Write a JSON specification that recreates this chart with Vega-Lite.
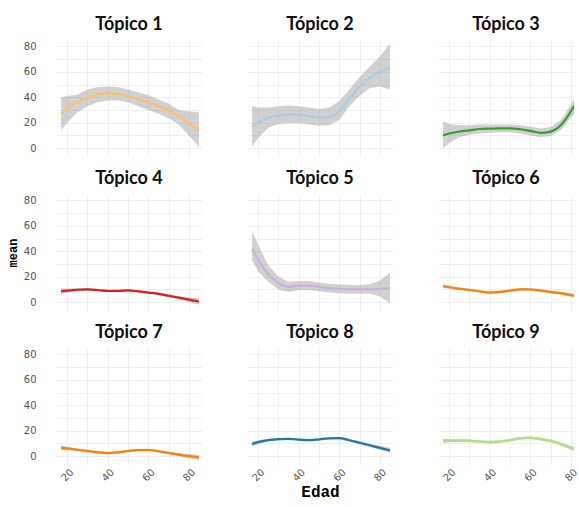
{
  "$schema": "https://vega.github.io/schema/vega-lite/v6.json",
  "padding": {"left": 6, "top": 16, "right": 0, "bottom": 0},
  "background": "white",
  "data": {"values": [
    {"topic":"Tópico 1","edad":17,"mean":27,"lo":14,"hi":40},
    {"topic":"Tópico 1","edad":20,"mean":31,"lo":20,"hi":41},
    {"topic":"Tópico 1","edad":25,"mean":36,"lo":28,"hi":42},
    {"topic":"Tópico 1","edad":30,"mean":40,"lo":33,"hi":46},
    {"topic":"Tópico 1","edad":35,"mean":42,"lo":36,"hi":48},
    {"topic":"Tópico 1","edad":40,"mean":43,"lo":37.5,"hi":48.5},
    {"topic":"Tópico 1","edad":45,"mean":42.5,"lo":37.5,"hi":48},
    {"topic":"Tópico 1","edad":50,"mean":41,"lo":36,"hi":46},
    {"topic":"Tópico 1","edad":55,"mean":38.5,"lo":33,"hi":44},
    {"topic":"Tópico 1","edad":60,"mean":36,"lo":30,"hi":41.5},
    {"topic":"Tópico 1","edad":65,"mean":33,"lo":27,"hi":38.5},
    {"topic":"Tópico 1","edad":70,"mean":29.5,"lo":23.5,"hi":35},
    {"topic":"Tópico 1","edad":75,"mean":25,"lo":18.5,"hi":30},
    {"topic":"Tópico 1","edad":80,"mean":19.5,"lo":10,"hi":29},
    {"topic":"Tópico 1","edad":85,"mean":14,"lo":1,"hi":28},
    {"topic":"Tópico 2","edad":17,"mean":17,"lo":1,"hi":33},
    {"topic":"Tópico 2","edad":20,"mean":20,"lo":8,"hi":32},
    {"topic":"Tópico 2","edad":25,"mean":24,"lo":16,"hi":32},
    {"topic":"Tópico 2","edad":30,"mean":25.5,"lo":19,"hi":33},
    {"topic":"Tópico 2","edad":35,"mean":26.5,"lo":19.5,"hi":33.5},
    {"topic":"Tópico 2","edad":40,"mean":26.5,"lo":19.5,"hi":33},
    {"topic":"Tópico 2","edad":45,"mean":25,"lo":18.5,"hi":32},
    {"topic":"Tópico 2","edad":50,"mean":24,"lo":17.5,"hi":31},
    {"topic":"Tópico 2","edad":55,"mean":24.5,"lo":18,"hi":32},
    {"topic":"Tópico 2","edad":60,"mean":29,"lo":22,"hi":37},
    {"topic":"Tópico 2","edad":65,"mean":39,"lo":33,"hi":46},
    {"topic":"Tópico 2","edad":70,"mean":48,"lo":41,"hi":56},
    {"topic":"Tópico 2","edad":75,"mean":55,"lo":47,"hi":64},
    {"topic":"Tópico 2","edad":80,"mean":60,"lo":48.5,"hi":72},
    {"topic":"Tópico 2","edad":85,"mean":63,"lo":46,"hi":82},
    {"topic":"Tópico 3","edad":17,"mean":10,"lo":0,"hi":21},
    {"topic":"Tópico 3","edad":20,"mean":11.5,"lo":4,"hi":19},
    {"topic":"Tópico 3","edad":25,"mean":13,"lo":8.5,"hi":18},
    {"topic":"Tópico 3","edad":30,"mean":14,"lo":10.5,"hi":18},
    {"topic":"Tópico 3","edad":35,"mean":15,"lo":11.5,"hi":18.5},
    {"topic":"Tópico 3","edad":40,"mean":15.3,"lo":12,"hi":18.5},
    {"topic":"Tópico 3","edad":45,"mean":15.5,"lo":12.5,"hi":18.5},
    {"topic":"Tópico 3","edad":50,"mean":15.5,"lo":12.5,"hi":18.5},
    {"topic":"Tópico 3","edad":55,"mean":14.8,"lo":11.5,"hi":18},
    {"topic":"Tópico 3","edad":60,"mean":13.5,"lo":10,"hi":17},
    {"topic":"Tópico 3","edad":65,"mean":12,"lo":8.5,"hi":15.5},
    {"topic":"Tópico 3","edad":70,"mean":13,"lo":9.5,"hi":16.5},
    {"topic":"Tópico 3","edad":75,"mean":18,"lo":14,"hi":22},
    {"topic":"Tópico 3","edad":80,"mean":29,"lo":24,"hi":34},
    {"topic":"Tópico 3","edad":85,"mean":42,"lo":34,"hi":50},
    {"topic":"Tópico 4","edad":17,"mean":8.5,"lo":6,"hi":11},
    {"topic":"Tópico 4","edad":20,"mean":9,"lo":7.3,"hi":10.7},
    {"topic":"Tópico 4","edad":25,"mean":9.7,"lo":8.5,"hi":10.9},
    {"topic":"Tópico 4","edad":30,"mean":10,"lo":9,"hi":11},
    {"topic":"Tópico 4","edad":35,"mean":9.5,"lo":8.6,"hi":10.4},
    {"topic":"Tópico 4","edad":40,"mean":8.8,"lo":8,"hi":9.6},
    {"topic":"Tópico 4","edad":45,"mean":8.8,"lo":8,"hi":9.6},
    {"topic":"Tópico 4","edad":50,"mean":9.2,"lo":8.3,"hi":10.1},
    {"topic":"Tópico 4","edad":55,"mean":8.5,"lo":7.6,"hi":9.4},
    {"topic":"Tópico 4","edad":60,"mean":7.5,"lo":6.6,"hi":8.4},
    {"topic":"Tópico 4","edad":65,"mean":6.5,"lo":5.5,"hi":7.5},
    {"topic":"Tópico 4","edad":70,"mean":5,"lo":3.9,"hi":6.1},
    {"topic":"Tópico 4","edad":75,"mean":3.5,"lo":2.2,"hi":4.8},
    {"topic":"Tópico 4","edad":80,"mean":2,"lo":0.3,"hi":3.7},
    {"topic":"Tópico 4","edad":85,"mean":0.5,"lo":-2,"hi":3},
    {"topic":"Tópico 5","edad":17,"mean":42,"lo":33,"hi":56},
    {"topic":"Tópico 5","edad":20,"mean":33,"lo":24,"hi":45},
    {"topic":"Tópico 5","edad":25,"mean":22,"lo":16,"hi":29},
    {"topic":"Tópico 5","edad":30,"mean":15,"lo":10,"hi":20},
    {"topic":"Tópico 5","edad":35,"mean":12,"lo":8,"hi":16},
    {"topic":"Tópico 5","edad":40,"mean":13,"lo":9.5,"hi":16.5},
    {"topic":"Tópico 5","edad":45,"mean":13,"lo":9.5,"hi":16.5},
    {"topic":"Tópico 5","edad":50,"mean":12,"lo":8.5,"hi":15.5},
    {"topic":"Tópico 5","edad":55,"mean":11,"lo":7.5,"hi":14.5},
    {"topic":"Tópico 5","edad":60,"mean":10.5,"lo":7,"hi":14},
    {"topic":"Tópico 5","edad":65,"mean":10,"lo":6.5,"hi":13.5},
    {"topic":"Tópico 5","edad":70,"mean":10,"lo":6.5,"hi":13.5},
    {"topic":"Tópico 5","edad":75,"mean":10,"lo":6.5,"hi":14},
    {"topic":"Tópico 5","edad":80,"mean":10.5,"lo":4.5,"hi":17},
    {"topic":"Tópico 5","edad":85,"mean":11,"lo":-1,"hi":23},
    {"topic":"Tópico 6","edad":17,"mean":12.5,"lo":11,"hi":14},
    {"topic":"Tópico 6","edad":20,"mean":11.7,"lo":10.5,"hi":12.9},
    {"topic":"Tópico 6","edad":25,"mean":10.5,"lo":9.5,"hi":11.5},
    {"topic":"Tópico 6","edad":30,"mean":9.5,"lo":8.6,"hi":10.4},
    {"topic":"Tópico 6","edad":35,"mean":8.5,"lo":7.6,"hi":9.4},
    {"topic":"Tópico 6","edad":40,"mean":7.5,"lo":6.6,"hi":8.4},
    {"topic":"Tópico 6","edad":45,"mean":8,"lo":7.1,"hi":8.9},
    {"topic":"Tópico 6","edad":50,"mean":9,"lo":8.1,"hi":9.9},
    {"topic":"Tópico 6","edad":55,"mean":10,"lo":9.1,"hi":10.9},
    {"topic":"Tópico 6","edad":60,"mean":10,"lo":9.1,"hi":10.9},
    {"topic":"Tópico 6","edad":65,"mean":9,"lo":8.1,"hi":9.9},
    {"topic":"Tópico 6","edad":70,"mean":8,"lo":7,"hi":9},
    {"topic":"Tópico 6","edad":75,"mean":7,"lo":5.8,"hi":8.2},
    {"topic":"Tópico 6","edad":80,"mean":5.5,"lo":4,"hi":7},
    {"topic":"Tópico 6","edad":85,"mean":4,"lo":2,"hi":6},
    {"topic":"Tópico 7","edad":17,"mean":6.5,"lo":4.5,"hi":8.5},
    {"topic":"Tópico 7","edad":20,"mean":6,"lo":4.8,"hi":7.2},
    {"topic":"Tópico 7","edad":25,"mean":5,"lo":4,"hi":6},
    {"topic":"Tópico 7","edad":30,"mean":4,"lo":3.1,"hi":4.9},
    {"topic":"Tópico 7","edad":35,"mean":3,"lo":2.1,"hi":3.9},
    {"topic":"Tópico 7","edad":40,"mean":2.4,"lo":1.5,"hi":3.3},
    {"topic":"Tópico 7","edad":45,"mean":3,"lo":2.1,"hi":3.9},
    {"topic":"Tópico 7","edad":50,"mean":4,"lo":3.1,"hi":4.9},
    {"topic":"Tópico 7","edad":55,"mean":4.8,"lo":3.9,"hi":5.7},
    {"topic":"Tópico 7","edad":60,"mean":4.8,"lo":3.9,"hi":5.7},
    {"topic":"Tópico 7","edad":65,"mean":3.8,"lo":2.9,"hi":4.7},
    {"topic":"Tópico 7","edad":70,"mean":2.5,"lo":1.5,"hi":3.5},
    {"topic":"Tópico 7","edad":75,"mean":1.2,"lo":0,"hi":2.4},
    {"topic":"Tópico 7","edad":80,"mean":0,"lo":-1.6,"hi":1.6},
    {"topic":"Tópico 7","edad":85,"mean":-1,"lo":-3,"hi":1},
    {"topic":"Tópico 8","edad":17,"mean":9.5,"lo":7.5,"hi":11.5},
    {"topic":"Tópico 8","edad":20,"mean":11,"lo":9.6,"hi":12.4},
    {"topic":"Tópico 8","edad":25,"mean":12.5,"lo":11.4,"hi":13.6},
    {"topic":"Tópico 8","edad":30,"mean":13.3,"lo":12.3,"hi":14.3},
    {"topic":"Tópico 8","edad":35,"mean":13.6,"lo":12.7,"hi":14.5},
    {"topic":"Tópico 8","edad":40,"mean":13,"lo":12.1,"hi":13.9},
    {"topic":"Tópico 8","edad":45,"mean":12.5,"lo":11.6,"hi":13.4},
    {"topic":"Tópico 8","edad":50,"mean":13.2,"lo":12.3,"hi":14.1},
    {"topic":"Tópico 8","edad":55,"mean":14,"lo":13.1,"hi":14.9},
    {"topic":"Tópico 8","edad":60,"mean":14.2,"lo":13.2,"hi":15.2},
    {"topic":"Tópico 8","edad":65,"mean":12.5,"lo":11.5,"hi":13.5},
    {"topic":"Tópico 8","edad":70,"mean":10.5,"lo":9.4,"hi":11.6},
    {"topic":"Tópico 8","edad":75,"mean":8.5,"lo":7.2,"hi":9.8},
    {"topic":"Tópico 8","edad":80,"mean":6.5,"lo":4.9,"hi":8.1},
    {"topic":"Tópico 8","edad":85,"mean":4.5,"lo":2.5,"hi":6.5},
    {"topic":"Tópico 9","edad":17,"mean":12,"lo":10.5,"hi":13.5},
    {"topic":"Tópico 9","edad":20,"mean":12.2,"lo":11,"hi":13.4},
    {"topic":"Tópico 9","edad":25,"mean":12.2,"lo":11.2,"hi":13.2},
    {"topic":"Tópico 9","edad":30,"mean":12,"lo":11.1,"hi":12.9},
    {"topic":"Tópico 9","edad":35,"mean":11.5,"lo":10.6,"hi":12.4},
    {"topic":"Tópico 9","edad":40,"mean":11,"lo":10.1,"hi":11.9},
    {"topic":"Tópico 9","edad":45,"mean":11.5,"lo":10.6,"hi":12.4},
    {"topic":"Tópico 9","edad":50,"mean":12.5,"lo":11.6,"hi":13.4},
    {"topic":"Tópico 9","edad":55,"mean":14,"lo":13.1,"hi":14.9},
    {"topic":"Tópico 9","edad":60,"mean":14.4,"lo":13.4,"hi":15.4},
    {"topic":"Tópico 9","edad":65,"mean":13.5,"lo":12.5,"hi":14.5},
    {"topic":"Tópico 9","edad":70,"mean":12,"lo":10.9,"hi":13.1},
    {"topic":"Tópico 9","edad":75,"mean":9.5,"lo":8.3,"hi":10.7},
    {"topic":"Tópico 9","edad":80,"mean":6.5,"lo":5,"hi":8},
    {"topic":"Tópico 9","edad":85,"mean":3.5,"lo":1.5,"hi":5.5}
  ]},
  "columns": 3,
  "spacing": {"row": 13, "column": 45},
  "resolve": {"scale": {"x": "independent", "y": "independent"}},
  "concat": [
    {"width": 146, "height": 117, "title": "Tópico 1",
     "transform": [{"filter": "datum.topic === 'Tópico 1'"}],
     "resolve": {"axis": {"x": "independent", "y": "independent"}},
     "layer": [
      {"mark": {"type": "area", "color": "#999999", "opacity": 0.45, "clip": true},
       "encoding": {
        "x": {"field": "edad", "type": "quantitative", "title": null, "scale": {"domain": [14.5, 86.5], "nice": false, "zero": false}, "axis": {"orient": "top", "values": [20,30,40,50,60,70,80], "labels": false, "grid": true}},
        "y": {"field": "lo", "type": "quantitative", "title": null, "scale": {"domain": [-7, 85], "nice": false, "zero": false}, "axis": {"orient": "right", "values": [0,10,20,30,40,50,60,70,80], "labels": false, "grid": true}},
        "y2": {"field": "hi"}}},
      {"mark": {"type": "line", "color": "#FDBF6F", "strokeWidth": 2.2, "interpolate": "monotone", "clip": true},
       "encoding": {
        "x": {"field": "edad", "type": "quantitative", "title": null, "axis": {"orient": "bottom", "values": [20,40,60,80], "labels": false, "grid": false}},
        "y": {"field": "mean", "type": "quantitative", "title": null, "axis": {"orient": "left", "values": [0,20,40,60,80], "grid": false, "labelPadding": 20}}}}
     ]},
    {"width": 146, "height": 117, "title": "Tópico 2",
     "transform": [{"filter": "datum.topic === 'Tópico 2'"}],
     "resolve": {"axis": {"x": "independent", "y": "independent"}},
     "layer": [
      {"mark": {"type": "area", "color": "#999999", "opacity": 0.45, "clip": true},
       "encoding": {
        "x": {"field": "edad", "type": "quantitative", "title": null, "scale": {"domain": [14.5, 86.5], "nice": false, "zero": false}, "axis": {"orient": "top", "values": [20,30,40,50,60,70,80], "labels": false, "grid": true}},
        "y": {"field": "lo", "type": "quantitative", "title": null, "scale": {"domain": [-7, 85], "nice": false, "zero": false}, "axis": {"orient": "right", "values": [0,10,20,30,40,50,60,70,80], "labels": false, "grid": true}},
        "y2": {"field": "hi"}}},
      {"mark": {"type": "line", "color": "#A6CEE3", "strokeWidth": 2.2, "interpolate": "monotone", "clip": true},
       "encoding": {
        "x": {"field": "edad", "type": "quantitative", "title": null, "axis": {"orient": "bottom", "values": [20,40,60,80], "labels": false, "grid": false}},
        "y": {"field": "mean", "type": "quantitative", "title": null, "axis": {"orient": "left", "values": [0,20,40,60,80], "grid": false, "labels": false}}}}
     ]},
    {"width": 136, "height": 117, "title": "Tópico 3",
     "transform": [{"filter": "datum.topic === 'Tópico 3'"}],
     "resolve": {"axis": {"x": "independent", "y": "independent"}},
     "layer": [
      {"mark": {"type": "area", "color": "#999999", "opacity": 0.45, "clip": true},
       "encoding": {
        "x": {"field": "edad", "type": "quantitative", "title": null, "scale": {"domain": [14.5, 81.5], "nice": false, "zero": false}, "axis": {"orient": "top", "values": [20,30,40,50,60,70,80], "labels": false, "grid": true}},
        "y": {"field": "lo", "type": "quantitative", "title": null, "scale": {"domain": [-7, 85], "nice": false, "zero": false}, "axis": {"orient": "right", "values": [0,10,20,30,40,50,60,70,80], "labels": false, "grid": true}},
        "y2": {"field": "hi"}}},
      {"mark": {"type": "line", "color": "#33A02C", "strokeWidth": 2.2, "interpolate": "monotone", "clip": true},
       "encoding": {
        "x": {"field": "edad", "type": "quantitative", "title": null, "axis": {"orient": "bottom", "values": [20,40,60,80], "labels": false, "grid": false}},
        "y": {"field": "mean", "type": "quantitative", "title": null, "axis": {"orient": "left", "values": [0,20,40,60,80], "grid": false, "labels": false}}}}
     ]},
    {"width": 146, "height": 117, "title": "Tópico 4",
     "transform": [{"filter": "datum.topic === 'Tópico 4'"}],
     "resolve": {"axis": {"x": "independent", "y": "independent"}},
     "layer": [
      {"mark": {"type": "area", "color": "#999999", "opacity": 0.45, "clip": true},
       "encoding": {
        "x": {"field": "edad", "type": "quantitative", "title": null, "scale": {"domain": [14.5, 86.5], "nice": false, "zero": false}, "axis": {"orient": "top", "values": [20,30,40,50,60,70,80], "labels": false, "grid": true}},
        "y": {"field": "lo", "type": "quantitative", "title": null, "scale": {"domain": [-7, 85], "nice": false, "zero": false}, "axis": {"orient": "right", "values": [0,10,20,30,40,50,60,70,80], "labels": false, "grid": true}},
        "y2": {"field": "hi"}}},
      {"mark": {"type": "line", "color": "#E31A1C", "strokeWidth": 2.2, "interpolate": "monotone", "clip": true},
       "encoding": {
        "x": {"field": "edad", "type": "quantitative", "title": null, "axis": {"orient": "bottom", "values": [20,40,60,80], "labels": false, "grid": false}},
        "y": {"field": "mean", "type": "quantitative", "title": "mean", "axis": {"orient": "left", "values": [0,20,40,60,80], "grid": false, "labelPadding": 20, "titleFontSize": 12, "titlePadding": 4}}}}
     ]},
    {"width": 146, "height": 117, "title": "Tópico 5",
     "transform": [{"filter": "datum.topic === 'Tópico 5'"}],
     "resolve": {"axis": {"x": "independent", "y": "independent"}},
     "layer": [
      {"mark": {"type": "area", "color": "#999999", "opacity": 0.45, "clip": true},
       "encoding": {
        "x": {"field": "edad", "type": "quantitative", "title": null, "scale": {"domain": [14.5, 86.5], "nice": false, "zero": false}, "axis": {"orient": "top", "values": [20,30,40,50,60,70,80], "labels": false, "grid": true}},
        "y": {"field": "lo", "type": "quantitative", "title": null, "scale": {"domain": [-7, 85], "nice": false, "zero": false}, "axis": {"orient": "right", "values": [0,10,20,30,40,50,60,70,80], "labels": false, "grid": true}},
        "y2": {"field": "hi"}}},
      {"mark": {"type": "line", "color": "#CAB2D6", "strokeWidth": 2.2, "interpolate": "monotone", "clip": true},
       "encoding": {
        "x": {"field": "edad", "type": "quantitative", "title": null, "axis": {"orient": "bottom", "values": [20,40,60,80], "labels": false, "grid": false}},
        "y": {"field": "mean", "type": "quantitative", "title": null, "axis": {"orient": "left", "values": [0,20,40,60,80], "grid": false, "labels": false}}}}
     ]},
    {"width": 136, "height": 117, "title": "Tópico 6",
     "transform": [{"filter": "datum.topic === 'Tópico 6'"}],
     "resolve": {"axis": {"x": "independent", "y": "independent"}},
     "layer": [
      {"mark": {"type": "area", "color": "#999999", "opacity": 0.45, "clip": true},
       "encoding": {
        "x": {"field": "edad", "type": "quantitative", "title": null, "scale": {"domain": [14.5, 81.5], "nice": false, "zero": false}, "axis": {"orient": "top", "values": [20,30,40,50,60,70,80], "labels": false, "grid": true}},
        "y": {"field": "lo", "type": "quantitative", "title": null, "scale": {"domain": [-7, 85], "nice": false, "zero": false}, "axis": {"orient": "right", "values": [0,10,20,30,40,50,60,70,80], "labels": false, "grid": true}},
        "y2": {"field": "hi"}}},
      {"mark": {"type": "line", "color": "#FF7F00", "strokeWidth": 2.2, "interpolate": "monotone", "clip": true},
       "encoding": {
        "x": {"field": "edad", "type": "quantitative", "title": null, "axis": {"orient": "bottom", "values": [20,40,60,80], "labels": false, "grid": false}},
        "y": {"field": "mean", "type": "quantitative", "title": null, "axis": {"orient": "left", "values": [0,20,40,60,80], "grid": false, "labels": false}}}}
     ]},
    {"width": 146, "height": 117, "title": "Tópico 7",
     "transform": [{"filter": "datum.topic === 'Tópico 7'"}],
     "resolve": {"axis": {"x": "independent", "y": "independent"}},
     "layer": [
      {"mark": {"type": "area", "color": "#999999", "opacity": 0.45, "clip": true},
       "encoding": {
        "x": {"field": "edad", "type": "quantitative", "title": null, "scale": {"domain": [14.5, 86.5], "nice": false, "zero": false}, "axis": {"orient": "top", "values": [20,30,40,50,60,70,80], "labels": false, "grid": true}},
        "y": {"field": "lo", "type": "quantitative", "title": null, "scale": {"domain": [-7, 85], "nice": false, "zero": false}, "axis": {"orient": "right", "values": [0,10,20,30,40,50,60,70,80], "labels": false, "grid": true}},
        "y2": {"field": "hi"}}},
      {"mark": {"type": "line", "color": "#FF7F00", "strokeWidth": 2.2, "interpolate": "monotone", "clip": true},
       "encoding": {
        "x": {"field": "edad", "type": "quantitative", "title": null, "axis": {"orient": "bottom", "values": [20,40,60,80], "grid": false, "labelAngle": -45, "labelAlign": "center", "labelBaseline": "middle", "labelPadding": 10}},
        "y": {"field": "mean", "type": "quantitative", "title": null, "axis": {"orient": "left", "values": [0,20,40,60,80], "grid": false, "labelPadding": 20}}}}
     ]},
    {"width": 146, "height": 117, "title": "Tópico 8",
     "transform": [{"filter": "datum.topic === 'Tópico 8'"}],
     "resolve": {"axis": {"x": "independent", "y": "independent"}},
     "layer": [
      {"mark": {"type": "area", "color": "#999999", "opacity": 0.45, "clip": true},
       "encoding": {
        "x": {"field": "edad", "type": "quantitative", "title": null, "scale": {"domain": [14.5, 86.5], "nice": false, "zero": false}, "axis": {"orient": "top", "values": [20,30,40,50,60,70,80], "labels": false, "grid": true}},
        "y": {"field": "lo", "type": "quantitative", "title": null, "scale": {"domain": [-7, 85], "nice": false, "zero": false}, "axis": {"orient": "right", "values": [0,10,20,30,40,50,60,70,80], "labels": false, "grid": true}},
        "y2": {"field": "hi"}}},
      {"mark": {"type": "line", "color": "#1F78B4", "strokeWidth": 2.2, "interpolate": "monotone", "clip": true},
       "encoding": {
        "x": {"field": "edad", "type": "quantitative", "title": "Edad", "axis": {"orient": "bottom", "values": [20,40,60,80], "grid": false, "labelAngle": -45, "labelAlign": "center", "labelBaseline": "middle", "labelPadding": 10, "titleFontSize": 16, "titlePadding": 0}},
        "y": {"field": "mean", "type": "quantitative", "title": null, "axis": {"orient": "left", "values": [0,20,40,60,80], "grid": false, "labels": false}}}}
     ]},
    {"width": 136, "height": 117, "title": "Tópico 9",
     "transform": [{"filter": "datum.topic === 'Tópico 9'"}],
     "resolve": {"axis": {"x": "independent", "y": "independent"}},
     "layer": [
      {"mark": {"type": "area", "color": "#999999", "opacity": 0.45, "clip": true},
       "encoding": {
        "x": {"field": "edad", "type": "quantitative", "title": null, "scale": {"domain": [14.5, 81.5], "nice": false, "zero": false}, "axis": {"orient": "top", "values": [20,30,40,50,60,70,80], "labels": false, "grid": true}},
        "y": {"field": "lo", "type": "quantitative", "title": null, "scale": {"domain": [-7, 85], "nice": false, "zero": false}, "axis": {"orient": "right", "values": [0,10,20,30,40,50,60,70,80], "labels": false, "grid": true}},
        "y2": {"field": "hi"}}},
      {"mark": {"type": "line", "color": "#B2DF8A", "strokeWidth": 2.6, "interpolate": "monotone", "clip": true},
       "encoding": {
        "x": {"field": "edad", "type": "quantitative", "title": null, "axis": {"orient": "bottom", "values": [20,40,60,80], "grid": false, "labelAngle": -45, "labelAlign": "center", "labelBaseline": "middle", "labelPadding": 10}},
        "y": {"field": "mean", "type": "quantitative", "title": null, "axis": {"orient": "left", "values": [0,20,40,60,80], "grid": false, "labels": false}}}}
     ]}
  ],
  "config": {
    "view": {"stroke": null},
    "axis": {"gridColor": "#ebebeb", "gridWidth": 0.8, "domain": false, "ticks": false, "labelOverlap": false, "labelFont": "DejaVu Sans", "labelFontSize": 10, "labelColor": "#555555", "titleFont": "Liberation Mono, DejaVu Sans Mono, monospace", "titleFontWeight": "bold", "titleColor": "#000000"},
    "title": {"font": "Lato", "fontWeight": "bold", "fontSize": 18, "color": "#111111", "offset": 6, "anchor": "middle"}
  }
}
